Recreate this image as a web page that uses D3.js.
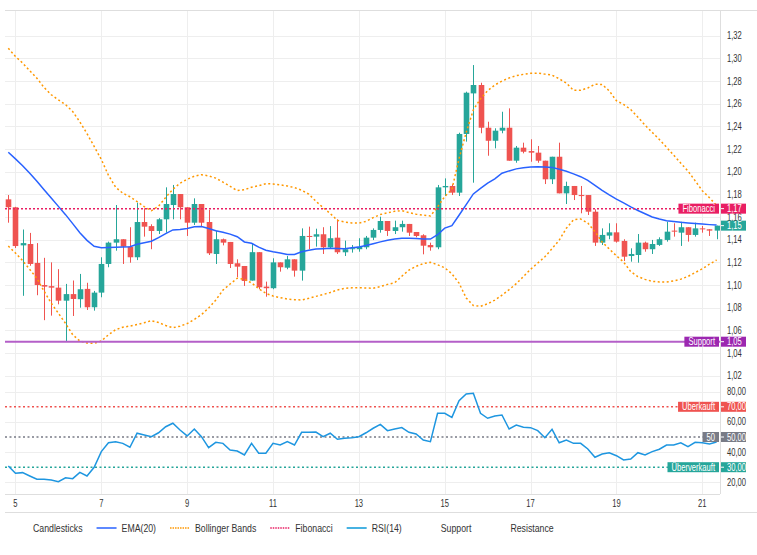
<!DOCTYPE html>
<html>
<head>
<meta charset="utf-8">
<script src="https://cdn.jsdelivr.net/npm/d3@7"></script>
<style>
    body { margin: 0; background: #fff; }
    svg text { font-family: "Liberation Sans", Arial, sans-serif; }
</style>
</head>
<body>
<svg id="chart"></svg>
<script>

// ---- data (4h candles, first one at day 4 20:00) ----
const startTime = new Date(2024, 0, 4, 20);
const candleHours = 4;

const opens = [
    1.1756, 1.1686, 1.1350, 1.1362, 1.1195, 1.1000, 1.0990, 1.0977, 1.0862, 1.0920,
    1.0875, 1.0966, 1.0804, 1.0933, 1.1186, 1.1374, 1.1404, 1.1339, 1.1245, 1.1556,
    1.1520, 1.1477, 1.1580, 1.1706, 1.1803, 1.1686, 1.1550, 1.1715, 1.1556, 1.1274,
    1.1404, 1.1380, 1.1192, 1.1168, 1.1039, 1.1290, 1.0986, 1.0972, 1.1200, 1.1153,
    1.1227, 1.1127, 1.1433, 1.1427, 1.1448, 1.1333, 1.1418, 1.1289, 1.1316, 1.1316,
    1.1333, 1.1418, 1.1486, 1.1565, 1.1477, 1.1510, 1.1539, 1.1468, 1.1439, 1.1353,
    1.1333, 1.1862, 1.1874, 1.1815, 1.2333, 1.2691, 1.2765, 1.2388, 1.2273, 1.2362,
    1.2388, 1.2097, 1.2212, 1.2182, 1.2168, 1.2097, 1.1933, 1.2132, 1.1809, 1.1874,
    1.1794, 1.1794, 1.1647, 1.1374, 1.1436, 1.1465, 1.1389, 1.1256, 1.1265, 1.1374,
    1.1316, 1.1354, 1.1398, 1.1480, 1.1462, 1.1510, 1.1442, 1.1500, 1.1492, 1.1480
];
const highs = [
    1.1794, 1.1690, 1.1490, 1.1460, 1.1370, 1.1240, 1.1200, 1.1140, 1.1010, 1.1040,
    1.1098, 1.1020, 1.0948, 1.1245, 1.1383, 1.1706, 1.1404, 1.1510, 1.1727, 1.1677,
    1.1536, 1.1590, 1.1862, 1.1883, 1.1803, 1.1686, 1.1765, 1.1715, 1.1662, 1.1480,
    1.1410, 1.1380, 1.1227, 1.1168, 1.1370, 1.1290, 1.1030, 1.1236, 1.1200, 1.1256,
    1.1227, 1.1500, 1.1515, 1.1497, 1.1510, 1.1520, 1.1580, 1.1392, 1.1353, 1.1413,
    1.1433, 1.1500, 1.1603, 1.1565, 1.1568, 1.1568, 1.1539, 1.1468, 1.1448, 1.1374,
    1.1883, 1.1941, 1.1889, 1.2344, 1.2706, 1.2941, 1.2785, 1.2441, 1.2383, 1.2529,
    1.2559, 1.2227, 1.2256, 1.2286, 1.2227, 1.2097, 1.2132, 1.2256, 1.1912, 1.1874,
    1.1874, 1.1794, 1.1668, 1.1500, 1.1545, 1.1545, 1.1404, 1.1324, 1.1450, 1.1383,
    1.1398, 1.1421, 1.1559, 1.1545, 1.1559, 1.1510, 1.1550, 1.1521, 1.1492, 1.1524
];
const lows = [
    1.1550, 1.1327, 1.0905, 1.1170, 1.0910, 1.0690, 1.0730, 1.0830, 1.0500, 1.0727,
    1.0800, 1.0780, 1.0774, 1.0892, 1.1157, 1.1303, 1.1186, 1.1197, 1.1220, 1.1427,
    1.1316, 1.1450, 1.1462, 1.1580, 1.1580, 1.1433, 1.1530, 1.1520, 1.1265, 1.1186,
    1.1350, 1.1150, 1.1070, 1.0992, 1.1039, 1.0963, 1.0897, 1.0963, 1.1118, 1.1139,
    1.1074, 1.1039, 1.1316, 1.1339, 1.1274, 1.1320, 1.1274, 1.1256, 1.1286, 1.1294,
    1.1316, 1.1397, 1.1462, 1.1433, 1.1450, 1.1471, 1.1433, 1.1421, 1.1271, 1.1303,
    1.1316, 1.1786, 1.1794, 1.1786, 1.2265, 1.1903, 1.2339, 1.2141, 1.2206, 1.2339,
    1.2097, 1.2079, 1.2162, 1.2088, 1.2079, 1.1891, 1.1891, 1.1809, 1.1715, 1.1750,
    1.1633, 1.1618, 1.1345, 1.1353, 1.1404, 1.1374, 1.1212, 1.1206, 1.1197, 1.1294,
    1.1274, 1.1345, 1.1383, 1.1427, 1.1345, 1.1383, 1.1427, 1.1462, 1.1433, 1.1404
];
const closes = [
    1.1686, 1.1344, 1.1370, 1.1186, 1.1000, 1.0986, 1.0977, 1.0862, 1.0920, 1.0877,
    1.0963, 1.0804, 1.0933, 1.1186, 1.1374, 1.1404, 1.1339, 1.1245, 1.1556, 1.1515,
    1.1477, 1.1580, 1.1715, 1.1803, 1.1686, 1.1550, 1.1715, 1.1550, 1.1280, 1.1404,
    1.1374, 1.1186, 1.1162, 1.1036, 1.1290, 1.0980, 1.0972, 1.1200, 1.1157, 1.1227,
    1.1127, 1.1433, 1.1427, 1.1448, 1.1333, 1.1413, 1.1289, 1.1316, 1.1325, 1.1339,
    1.1418, 1.1486, 1.1565, 1.1477, 1.1510, 1.1539, 1.1462, 1.1433, 1.1347, 1.1333,
    1.1862, 1.1874, 1.1815, 1.2333, 1.2697, 1.2765, 1.2388, 1.2273, 1.2362, 1.2388,
    1.2097, 1.2212, 1.2176, 1.2168, 1.2097, 1.1933, 1.2132, 1.1809, 1.1874, 1.1794,
    1.1785, 1.1647, 1.1374, 1.1442, 1.1465, 1.1383, 1.1250, 1.1274, 1.1374, 1.1316,
    1.1362, 1.1404, 1.1471, 1.1471, 1.1510, 1.1442, 1.1500, 1.1492, 1.1480, 1.1524
];

// indicators
const ema20 = [
    1.2171, 1.2113, 1.2053, 1.1986, 1.1915, 1.1840, 1.1767, 1.1694, 1.1621, 1.1542,
    1.1461, 1.1394, 1.1342, 1.1330, 1.1332, 1.1333, 1.1335, 1.1338, 1.1359, 1.1374,
    1.1386, 1.1418, 1.1454, 1.1486, 1.1491, 1.1499, 1.1515, 1.1516, 1.1499, 1.1479,
    1.1465, 1.1449, 1.1426, 1.1380, 1.1368, 1.1335, 1.1307, 1.1294, 1.1283, 1.1270,
    1.1270, 1.1294, 1.1306, 1.1318, 1.1321, 1.1324, 1.1322, 1.1321, 1.1328, 1.1335,
    1.1348, 1.1364, 1.1381, 1.1396, 1.1406, 1.1412, 1.1412, 1.1411, 1.1407, 1.1406,
    1.1444, 1.1502, 1.1524, 1.1616, 1.1710, 1.1804, 1.1853, 1.1899, 1.1937, 1.1987,
    1.2007, 1.2025, 1.2034, 1.2041, 1.2043, 1.2041, 1.2038, 1.2021, 1.2004, 1.1981,
    1.1956, 1.1924, 1.1880, 1.1836, 1.1796, 1.1758, 1.1725, 1.1689, 1.1658, 1.1629,
    1.1600, 1.1583, 1.1568, 1.1560, 1.1553, 1.1548, 1.1543, 1.1538, 1.1533, 1.1529
];
const bbUpper = [
    1.3089, 1.3017, 1.2959, 1.2891, 1.2825, 1.2743, 1.2679, 1.2634, 1.2592, 1.2531,
    1.2440, 1.2336, 1.2223, 1.2108, 1.1968, 1.1863, 1.1810, 1.1779, 1.1737, 1.1691,
    1.1656, 1.1696, 1.1773, 1.1845, 1.1898, 1.1933, 1.1960, 1.1974, 1.1963, 1.1943,
    1.1908, 1.1871, 1.1833, 1.1841, 1.1863, 1.1877, 1.1894, 1.1892, 1.1884, 1.1874,
    1.1860, 1.1837, 1.1802, 1.1739, 1.1683, 1.1631, 1.1570, 1.1556, 1.1548, 1.1547,
    1.1562, 1.1595, 1.1622, 1.1637, 1.1650, 1.1656, 1.1640, 1.1625, 1.1616, 1.1610,
    1.1689, 1.1781, 1.1843, 1.2115, 1.2347, 1.2545, 1.2643, 1.2715, 1.2765, 1.2800,
    1.2827, 1.2848, 1.2859, 1.2868, 1.2870, 1.2861, 1.2852, 1.2820, 1.2782, 1.2718,
    1.2718, 1.2739, 1.2772, 1.2769, 1.2713, 1.2626, 1.2593, 1.2549, 1.2481, 1.2411,
    1.2347, 1.2284, 1.2216, 1.2146, 1.2075, 1.2006, 1.1920, 1.1832, 1.1771, 1.1702
];
const bbLower = [
    1.1344, 1.1282, 1.1215, 1.1137, 1.1059, 1.0946, 1.0840, 1.0751, 1.0661, 1.0562,
    1.0506, 1.0488, 1.0486, 1.0506, 1.0561, 1.0606, 1.0628, 1.0638, 1.0651, 1.0667,
    1.0686, 1.0669, 1.0643, 1.0623, 1.0637, 1.0660, 1.0697, 1.0739, 1.0797, 1.0867,
    1.0955, 1.1009, 1.1060, 1.1050, 1.1019, 1.0967, 1.0927, 1.0903, 1.0889, 1.0876,
    1.0871, 1.0868, 1.0883, 1.0900, 1.0916, 1.0934, 1.0957, 1.0971, 1.0975, 1.0976,
    1.0974, 1.0972, 1.0987, 1.1006, 1.1020, 1.1077, 1.1132, 1.1165, 1.1189, 1.1200,
    1.1179, 1.1152, 1.1099, 1.1017, 1.0886, 1.0819, 1.0812, 1.0835, 1.0867, 1.0911,
    1.0960, 1.1012, 1.1075, 1.1139, 1.1194, 1.1249, 1.1321, 1.1396, 1.1501, 1.1576,
    1.1583, 1.1547, 1.1470, 1.1380, 1.1318, 1.1258, 1.1203, 1.1118, 1.1074, 1.1050,
    1.1033, 1.1027, 1.1027, 1.1036, 1.1052, 1.1076, 1.1110, 1.1143, 1.1184, 1.1221
];
const rsi14 = [
    30.8, 26.0, 26.4, 24.2, 22.0, 22.0, 21.5, 20.4, 23.0, 22.4,
    26.6, 24.2, 29.9, 40.3, 46.2, 46.9, 45.8, 43.2, 52.5, 51.3,
    50.2, 52.8, 56.8, 59.1, 54.6, 50.7, 55.3, 50.2, 42.9, 46.5,
    45.8, 41.4, 40.7, 38.1, 45.8, 39.2, 39.2, 45.8, 44.7, 46.9,
    44.7, 53.1, 53.1, 53.3, 50.2, 52.5, 48.5, 49.1, 49.5, 50.2,
    52.8, 55.8, 58.4, 54.2, 55.3, 56.2, 53.1, 52.0, 48.0, 46.9,
    65.7, 65.7, 63.0, 74.0, 78.5, 78.9, 65.7, 62.4, 63.9, 64.6,
    55.3, 57.9, 56.4, 56.2, 54.2, 49.5, 55.1, 46.2, 48.0, 45.8,
    45.8, 42.1, 36.6, 38.7, 39.6, 37.6, 34.8, 35.4, 39.6, 38.1,
    40.3, 41.9, 44.7, 44.7, 46.2, 43.6, 46.5, 46.2, 45.4, 46.7
];

// levels and ticks
const fibonacciLevel = 1.1674;
const supportLevel = 1.05;
const rsiLevels = [70, 50, 30];
const rsiLevelLabels = ["Überkauft", "50", "Überverkauft"];
const priceTicks = [1.02, 1.04, 1.06, 1.08, 1.10, 1.12, 1.14, 1.16, 1.18, 1.20, 1.22, 1.24, 1.26, 1.28, 1.30, 1.32];
const rsiTicks = [20, 40, 60, 80];
const legendNames = ["Candlesticks", "EMA(20)", "Bollinger Bands", "Fibonacci", "RSI(14)", "Support", "Resistance"];

// ---- look ----
const upColor = "#26a69a", downColor = "#ef5350";
const emaColor = "#2962ff", bbColor = "#ff9800", fibColor = "#e91e63";
const supportColor = "#b45fc8", supportBadge = "#9c27b0";
const rsiColor = "#1e96e0";
const rsiLevelColors = ["#ef5350", "#787b86", "#26a69a"];
const gridColor = "#eeeeee", borderColor = "#dedede", textColor = "#333";
const narrow = 0.76;  // the reference text is condensed

const width = 757, height = 555;
const plotLeft = 5, plotRight = 720, plotTop = 10, plotBottom = 494;
const mainBottom = 378, rsiTop = 380;

const de = d3.formatLocale({decimal: ",", thousands: ".", grouping: [3], currency: ["", " €"]});
const fmt2 = de.format(".2f");

const svg = d3.select("#chart").attr("width", width).attr("height", height);

// squeeze text horizontally, returns the new width
function condense(sel) {
    let w = 0;
    sel.each(function() {
        const n = this.getComputedTextLength() * narrow;
        d3.select(this).attr("textLength", n).attr("lengthAdjust", "spacingAndGlyphs");
        w = Math.max(w, n);
    });
    return w;
}

const candles = opens.map((o, i) => ({
    time: d3.timeHour.offset(startTime, i * candleHours),
    open: o, high: highs[i], low: lows[i], close: closes[i]
}));
const times = candles.map(d => d.time);

const x = d3.scaleTime().domain(d3.extent(times)).range([8.3, 716.6]);
const y = d3.scaleLinear().domain([1.02, 1.32]).range([375.7, 35.7]);
const yRsi = d3.scaleLinear().domain([20, 80]).range([482.3, 391.7]);

// clip paths for the two panes
const defs = svg.append("defs");
defs.append("clipPath").attr("id", "clipMain").append("rect")
    .attr("x", plotLeft).attr("y", plotTop).attr("width", plotRight - plotLeft).attr("height", mainBottom - plotTop);
defs.append("clipPath").attr("id", "clipRsi").append("rect")
    .attr("x", plotLeft).attr("y", rsiTop).attr("width", plotRight - plotLeft).attr("height", plotBottom - rsiTop);

// grid
const grid = svg.append("g").attr("stroke", gridColor).attr("stroke-width", 1);
const dayTicks = x.ticks(d3.timeDay.every(2));
grid.selectAll(".vgrid").data(dayTicks).join("line")
    .attr("x1", d => Math.round(x(d)) + 0.5).attr("x2", d => Math.round(x(d)) + 0.5)
    .attr("y1", plotTop).attr("y2", plotBottom);
grid.selectAll(".pgrid").data(priceTicks).join("line")
    .attr("x1", plotLeft).attr("x2", plotRight)
    .attr("y1", d => Math.round(y(d)) + 0.5).attr("y2", d => Math.round(y(d)) + 0.5);
grid.selectAll(".rgrid").data(rsiTicks).join("line")
    .attr("x1", plotLeft).attr("x2", plotRight)
    .attr("y1", d => Math.round(yRsi(d)) + 0.5).attr("y2", d => Math.round(yRsi(d)) + 0.5);

// borders
const borders = svg.append("g").attr("stroke", borderColor).attr("stroke-width", 1);
borders.append("line").attr("x1", plotLeft).attr("x2", width).attr("y1", plotTop + 0.5).attr("y2", plotTop + 0.5);
borders.append("line").attr("x1", plotRight + 0.5).attr("x2", plotRight + 0.5).attr("y1", plotTop).attr("y2", plotBottom);
borders.append("line").attr("x1", plotLeft).attr("x2", plotRight).attr("y1", plotBottom + 0.5).attr("y2", plotBottom + 0.5);
borders.append("line").attr("x1", plotLeft).attr("x2", width).attr("y1", 512.5).attr("y2", 512.5);

// ---- main pane ----
const main = svg.append("g").attr("clip-path", "url(#clipMain)");

// candles
const bodyW = 5.6;
const candleG = main.append("g");
candleG.selectAll(".wick").data(candles).join("line")
    .attr("x1", d => Math.round(x(d.time)) + 0.5).attr("x2", d => Math.round(x(d.time)) + 0.5)
    .attr("y1", d => y(d.high)).attr("y2", d => y(d.low))
    .attr("stroke", d => d.close >= d.open ? upColor : downColor)
    .attr("stroke-width", 1);
candleG.selectAll(".body").data(candles).join("rect")
    .attr("x", d => Math.round(x(d.time)) + 0.5 - bodyW / 2)
    .attr("y", d => y(Math.max(d.open, d.close)))
    .attr("width", bodyW)
    .attr("height", d => Math.max(1, Math.abs(y(d.open) - y(d.close))))
    .attr("fill", d => d.close >= d.open ? upColor : downColor);

// indicator lines
const priceLine = vals => d3.line().x((d, i) => x(times[i])).y(d => y(d))(vals);
main.append("path").attr("d", priceLine(bbUpper))
    .attr("fill", "none").attr("stroke", bbColor).attr("stroke-width", 1.5).attr("stroke-dasharray", "2,2.5");
main.append("path").attr("d", priceLine(bbLower))
    .attr("fill", "none").attr("stroke", bbColor).attr("stroke-width", 1.5).attr("stroke-dasharray", "2,2.5");
main.append("path").attr("d", priceLine(ema20))
    .attr("fill", "none").attr("stroke", emaColor).attr("stroke-width", 1.5);

// horizontal levels
main.append("line")
    .attr("x1", plotLeft).attr("x2", plotRight)
    .attr("y1", y(fibonacciLevel)).attr("y2", y(fibonacciLevel))
    .attr("stroke", fibColor).attr("stroke-width", 1.5).attr("stroke-dasharray", "2,2");
main.append("line")
    .attr("x1", plotLeft).attr("x2", plotRight)
    .attr("y1", y(supportLevel)).attr("y2", y(supportLevel))
    .attr("stroke", supportColor).attr("stroke-width", 2);

// ---- RSI pane ----
const rsiG = svg.append("g").attr("clip-path", "url(#clipRsi)");
rsiLevels.forEach((lvl, i) => {
    rsiG.append("line")
        .attr("x1", plotLeft).attr("x2", plotRight)
        .attr("y1", yRsi(lvl)).attr("y2", yRsi(lvl))
        .attr("stroke", rsiLevelColors[i]).attr("stroke-width", 1.5).attr("stroke-dasharray", "2,2.5");
});
rsiG.append("path")
    .attr("d", d3.line().x((d, i) => x(times[i])).y(d => yRsi(d))(rsi14))
    .attr("fill", "none").attr("stroke", rsiColor).attr("stroke-width", 1.5);

// ---- axes labels ----
const labels = svg.append("g").attr("font-size", 10).attr("fill", textColor);
condense(labels.selectAll(".plabel").data(priceTicks).join("text")
    .attr("x", 727).attr("y", d => y(d)).attr("dy", "0.35em")
    .text(d => fmt2(d)));
condense(labels.selectAll(".rlabel").data(rsiTicks).join("text")
    .attr("x", 727).attr("y", d => yRsi(d)).attr("dy", "0.35em")
    .text(d => fmt2(d)));
condense(labels.selectAll(".tlabel").data(dayTicks).join("text")
    .attr("x", d => x(d)).attr("y", 503).attr("dy", "0.35em").attr("text-anchor", "middle")
    .text(d3.timeFormat("%-d")));

// ---- badges ----
function axisBadge(yPos, text, color) {
    const g = svg.append("g");
    g.append("rect").attr("x", plotRight + 1).attr("y", yPos - 5).attr("width", 25).attr("height", 10).attr("fill", color);
    g.append("line").attr("x1", plotRight + 1).attr("x2", plotRight + 4).attr("y1", yPos).attr("y2", yPos)
        .attr("stroke", "#fff").attr("stroke-width", 1);
    condense(g.append("text").attr("x", 727).attr("y", yPos).attr("dy", "0.35em")
        .attr("font-size", 10).attr("fill", "#fff").text(text));
}
function labelBadge(yPos, text, color) {
    const g = svg.append("g");
    const rect = g.append("rect").attr("fill", color);
    const t = g.append("text").attr("y", yPos).attr("dy", "0.35em")
        .attr("font-size", 10).attr("fill", "#fff").text(text);
    const w = condense(t) + 8;
    t.attr("x", plotRight - 1 - w + 4);
    rect.attr("x", plotRight - 1 - w).attr("y", yPos - 5).attr("width", w).attr("height", 10);
}

labelBadge(y(fibonacciLevel), "Fibonacci", fibColor);
axisBadge(y(fibonacciLevel), fmt2(fibonacciLevel), fibColor);
const last = candles[candles.length - 1];
axisBadge(y(last.close), fmt2(last.close), last.close >= last.open ? upColor : downColor);
labelBadge(y(supportLevel), "Support", supportBadge);
axisBadge(y(supportLevel), fmt2(supportLevel), supportBadge);
rsiLevels.forEach((lvl, i) => {
    labelBadge(yRsi(lvl), rsiLevelLabels[i], rsiLevelColors[i]);
    axisBadge(yRsi(lvl), fmt2(lvl), rsiLevelColors[i]);
});

// ---- legend ----
const swatches = {
    "EMA(20)": {color: emaColor, dash: null},
    "Bollinger Bands": {color: bbColor, dash: "1.5,1"},
    "Fibonacci": {color: fibColor, dash: "1.5,1"},
    "RSI(14)": {color: "#0a98d8", dash: null}
};
const legend = svg.append("g").attr("font-size", 11.5).attr("fill", textColor);
let lx = 8;
legendNames.forEach(name => {
    const sw = swatches[name];
    if (sw) {
        legend.append("line").attr("x1", lx).attr("x2", lx + 20).attr("y1", 528).attr("y2", 528)
            .attr("stroke", sw.color).attr("stroke-width", 1.5).attr("stroke-dasharray", sw.dash);
    }
    const t = legend.append("text").attr("x", lx + 25).attr("y", 528).attr("dy", "0.35em").text(name);
    lx += 25 + condense(t) + 14;
});

</script>
</body>
</html>
